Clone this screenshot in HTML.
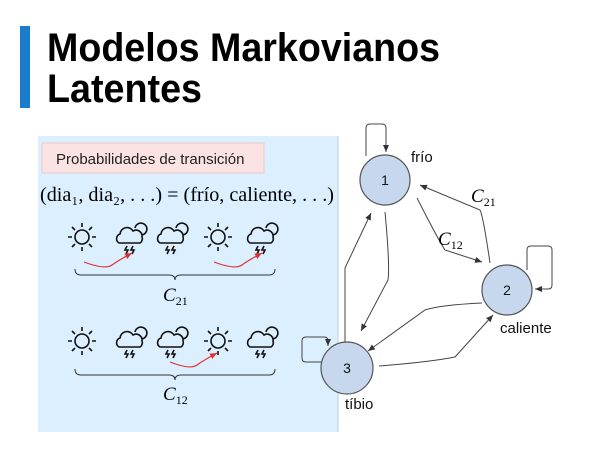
<!DOCTYPE html>
<html><head><meta charset="utf-8"><style>
html,body{margin:0;padding:0;background:#fff;}
svg{display:block;font-family:"Liberation Sans",sans-serif;}
.m{font-family:"Liberation Serif",serif;}
</style></head><body>
<svg width="599" height="454" viewBox="0 0 599 454">
<defs>
<marker id="a" markerWidth="8" markerHeight="8" refX="7" refY="4" orient="auto" markerUnits="userSpaceOnUse"><path d="M0,1 L7,4 L0,7 Z" fill="#333"/></marker>
<marker id="r" markerWidth="8" markerHeight="8" refX="7" refY="4" orient="auto" markerUnits="userSpaceOnUse"><path d="M0,1 L7,4 L0,7 Z" fill="#e03030"/></marker>
<g id="sun" fill="none" stroke="#111" stroke-width="1.6">
<circle cx="0" cy="0" r="7"/>
<path d="M0,-10v-4M0,10v4M-10,0h-4M10,0h4M7,-7l3,-3M-7,-7l-3,-3M7,7l3,3M-7,7l-3,3"/>
</g>
<g id="cl" fill="none" stroke="#111" stroke-width="1.6">
<path d="M-12,6 a5,5 0 0 1 1,-9 a7,7 0 0 1 13,-3 a6,6 0 0 1 9,6 a5,5 0 0 1 -2,6 Z"/>
<path d="M4,-9 a6,6 0 1 1 7,7"/>
<path d="M-4,9l-2,4h3l-2,4M2,9l-2,4h3l-2,4"/>
</g>
</defs>
<rect x="20" y="26" width="10" height="82" fill="#1a7ccc"/>
<text x="47" y="61" font-size="40" font-weight="bold" textLength="393" lengthAdjust="spacingAndGlyphs">Modelos Markovianos</text>
<text x="47" y="102" font-size="40" font-weight="bold" textLength="155" lengthAdjust="spacingAndGlyphs">Latentes</text>

<rect x="38" y="136" width="300" height="296" fill="#dcefff"/>
<line x1="338" y1="136" x2="338" y2="432" stroke="#b8cfe0"/>
<rect x="42" y="143" width="222" height="30" fill="#fce3e3" stroke="#e8c8c8"/>
<text x="56" y="164" font-size="15" fill="#222">Probabilidades de transición</text>
<text x="40" y="201" class="m" font-size="20" textLength="294" lengthAdjust="spacingAndGlyphs">(dia₁, dia₂, . . .) = (frío, caliente, . . .)</text>

<use href="#sun" x="82" y="237"/><use href="#cl" x="131" y="237"/><use href="#cl" x="172" y="237"/><use href="#sun" x="218" y="237"/><use href="#cl" x="262" y="237"/>
<path d="M84,262 Q105,270 112,265 T132,253" fill="none" stroke="#e03030" stroke-width="1.2" marker-end="url(#r)"/>
<path d="M214,262 Q235,270 242,265 T262,253" fill="none" stroke="#e03030" stroke-width="1.2" marker-end="url(#r)"/>
<path d="M75,269 q0,6 6,6 h88 q6,0 6,5 q0,-5 6,-5 h88 q6,0 6,-6" fill="none" stroke="#333" stroke-width="1"/>
<text x="163" y="301" class="m" font-size="19" font-style="italic">C<tspan font-size="12" font-style="normal" dy="4">21</tspan></text>

<use href="#sun" x="82" y="341"/><use href="#cl" x="131" y="341"/><use href="#cl" x="172" y="341"/><use href="#sun" x="218" y="341"/><use href="#cl" x="262" y="341"/>
<path d="M170,362 Q190,370 197,365 T217,353" fill="none" stroke="#e03030" stroke-width="1.2" marker-end="url(#r)"/>
<path d="M75,369 q0,6 6,6 h88 q6,0 6,5 q0,-5 6,-5 h88 q6,0 6,-6" fill="none" stroke="#333" stroke-width="1"/>
<text x="163" y="400" class="m" font-size="19" font-style="italic">C<tspan font-size="12" font-style="normal" dy="4">12</tspan></text>

<g fill="none" stroke="#444" stroke-width="1">
<path d="M366,156 V128 Q366,124 370,124 H382 Q386,124 386,128 V152" marker-end="url(#a)"/>
<path d="M527,270 V250 Q527,246 531,246 H548 Q552,246 552,250 V285 Q552,289 548,289 H535" marker-end="url(#a)"/>
<path d="M345,362 H306 Q302,362 302,358 V341 Q302,337 306,337 H324 Q328,337 328,341 V346" marker-end="url(#a)"/>
<path d="M490,263 Q483,215 480,210 L420,185" marker-end="url(#a)"/>
<path d="M417,198 Q440,243 445,250 L482,262" marker-end="url(#a)"/>
<path d="M385,212 Q390,265 388,280 L361,331" marker-end="url(#a)"/>
<path d="M345,342 V268 L371,213" marker-end="url(#a)"/>
<path d="M482,303 Q440,305 425,310 L368,351" marker-end="url(#a)"/>
<path d="M379,366 Q430,362 455,357 L493,315" marker-end="url(#a)"/>
</g>
<g fill="#c7d7ee" stroke="#555" stroke-width="1.2">
<circle cx="385" cy="180" r="25"/><circle cx="507" cy="290" r="25"/><circle cx="347" cy="368" r="26"/>
</g>
<g font-size="14" text-anchor="middle" fill="#111">
<text x="385" y="185">1</text><text x="507" y="295">2</text><text x="347" y="373">3</text>
</g>
<g font-size="15" fill="#111">
<text x="411" y="162">frío</text><text x="500" y="333">caliente</text><text x="345" y="409">tíbio</text>
</g>
<text x="471" y="202" class="m" font-size="19" font-style="italic">C<tspan font-size="12" font-style="normal" dy="4">21</tspan></text>
<text x="438" y="245" class="m" font-size="19" font-style="italic">C<tspan font-size="12" font-style="normal" dy="4">12</tspan></text>
</svg>
</body></html>
